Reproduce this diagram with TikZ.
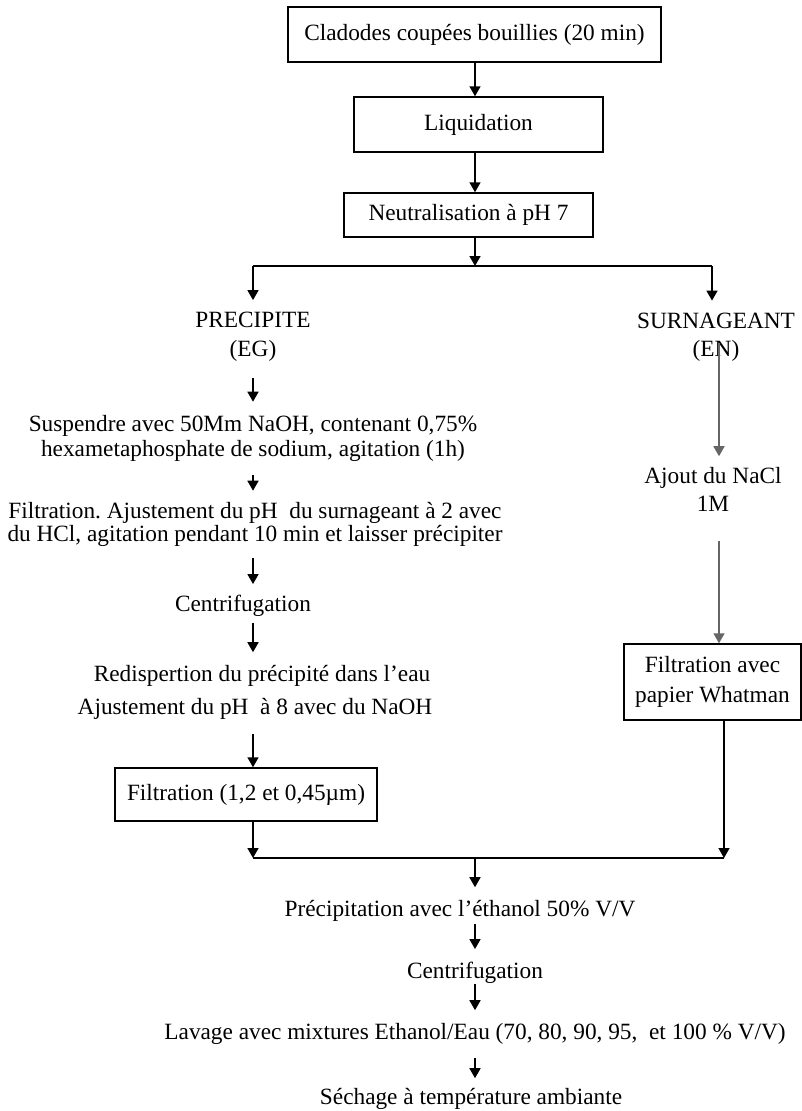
\documentclass[tikz,border=0pt]{standalone}
\usepackage{fontspec}
\setmainfont{Liberation Serif}
\usetikzlibrary{arrows.meta,calc}
\frenchspacing
\begin{document}
\begin{tikzpicture}[x=1pt,y=-1pt,
  every node/.style={font=\fontsize{23.3}{25}\selectfont},
  box/.style={draw,line width=1.5pt,inner sep=0pt,align=center},
  txt/.style={inner sep=0pt,align=center},
  ln/.style={line width=1.6pt},
  arr/.style={ln,-{Triangle[width=11pt,length=10pt]}},
  garr/.style={arr,draw=black!60,fill=black!60},
]
\useasboundingbox (0,0) rectangle (802,1111);

% column coordinates
\coordinate (cC) at (475,0);
\coordinate (cL) at (253,0);
\coordinate (cRa) at (719,0);
\coordinate (cRb) at (724,0);
\coordinate (sC) at (475,266);
\coordinate (sL) at (253,266);
\coordinate (sR) at (712,266);
\coordinate (jL) at (253,858);
\coordinate (jC) at (475,858);
\coordinate (jR) at (724,858);

% boxes
\node[box,minimum width=373,minimum height=55] (b1) at (474.5,34.5) {Cladodes coupées bouillies (20 min)};
\node[box,minimum width=249,minimum height=55] (b2) at (478.5,124.5) {Liquidation};
\node[box,minimum width=249,minimum height=44] (b3) at (468.5,215) {Neutralisation à pH 7};

% left branch
\node[txt,font=\fontsize{23.3}{29}\selectfont] (prec) at (253,337) {PRECIPITE\\(EG)};
\node[txt,font=\fontsize{23.3}{25}\selectfont] (susp) at (253,438) {Suspendre avec 50Mm NaOH, contenant 0,75\%\\hexametaphosphate de sodium, agitation (1h)};
\node[txt,font=\fontsize{23.3}{23}\selectfont] (filt) at (255,524) {Filtration. Ajustement du pH\ \ du surnageant à 2 avec\\du HCl, agitation pendant 10 min et laisser précipiter};
\node[txt] (cen1) at (243,606) {Centrifugation};
\node[txt] (redi) at (262,676) {Redispertion du précipité dans l’eau};
\node[txt] (ajus) at (255,709) {Ajustement du pH\ \ à 8 avec du NaOH};
\node[box,minimum width=262,minimum height=53] (fbox) at (246,794.5) {Filtration (1,2 et 0,45µm)};

% right branch
\node[txt,font=\fontsize{23.3}{28}\selectfont] (surn) at (716,337) {SURNAGEANT\\(EN)};
\node[txt,font=\fontsize{23.3}{28}\selectfont] (ajout) at (713,489.5) {Ajout du NaCl\\1M};
\node[box,minimum width=177,minimum height=76,font=\fontsize{23.3}{30}\selectfont] (what) at (712.5,682) {Filtration avec\\papier Whatman};

% bottom
\node[txt] (prc2) at (460,911) {Précipitation avec l’éthanol 50\% V/V};
\node[txt] (cen2) at (475,973) {Centrifugation};
\node[txt] (lav) at (475,1034) {Lavage avec mixtures Ethanol/Eau (70, 80, 90, 95,\ \ et 100 \% V/V)};
\node[txt] (sech) at (471,1099) {Séchage à température ambiante};

% connectors
\draw[arr] (b1.south -| cC) -- (b2.north -| cC);
\draw[arr] (b2.south -| cC) -- (b3.north -| cC);
\draw[arr] (b3.south -| cC) -- (sC);
\draw[ln] (sL) -- (sR);
\draw[arr,shorten >=12pt] (sL) -- (prec.north -| sL);
\draw[arr,shorten >=12pt] (sR) -- (surn.north -| sR);
\draw[arr,shorten <=16pt,shorten >=13pt] (prec.south -| cL) -- (susp.north -| cL);
\draw[arr,shorten <=14pt,shorten >=11pt] (susp.south -| cL) -- (filt.north -| cL);
\draw[arr,shorten <=12pt,shorten >=11pt] (filt.south -| cL) -- (cen1.north -| cL);
\draw[arr,shorten <=6pt,shorten >=13pt] (cen1.south -| cL) -- (redi.north -| cL);
\draw[arr,shorten <=14pt] (ajus.south -| cL) -- (fbox.north -| cL);
\draw[arr] (fbox.south -| cL) -- (jL);
\draw[garr,shorten <=6pt,shorten >=11pt] (surn.center -| cRa) -- (ajout.north -| cRa);
\draw[garr,shorten <=29pt] (ajout.south -| cRa) -- (what.north -| cRa);
\draw[arr] (what.south -| cRb) -- (jR);
\draw[ln] (jL) -- (jR);
\draw[arr,shorten >=13pt] (jC) -- (prc2.north -| jC);
\draw[arr,shorten <=2pt,shorten >=13pt] (prc2.south -| cC) -- (cen2.north -| cC);
\draw[arr,shorten >=13pt] (cen2.south -| cC) -- (lav.north -| cC);
\draw[arr,shorten <=13pt,shorten >=10pt] (lav.south -| cC) -- (sech.north -| cC);
\end{tikzpicture}
\end{document}
